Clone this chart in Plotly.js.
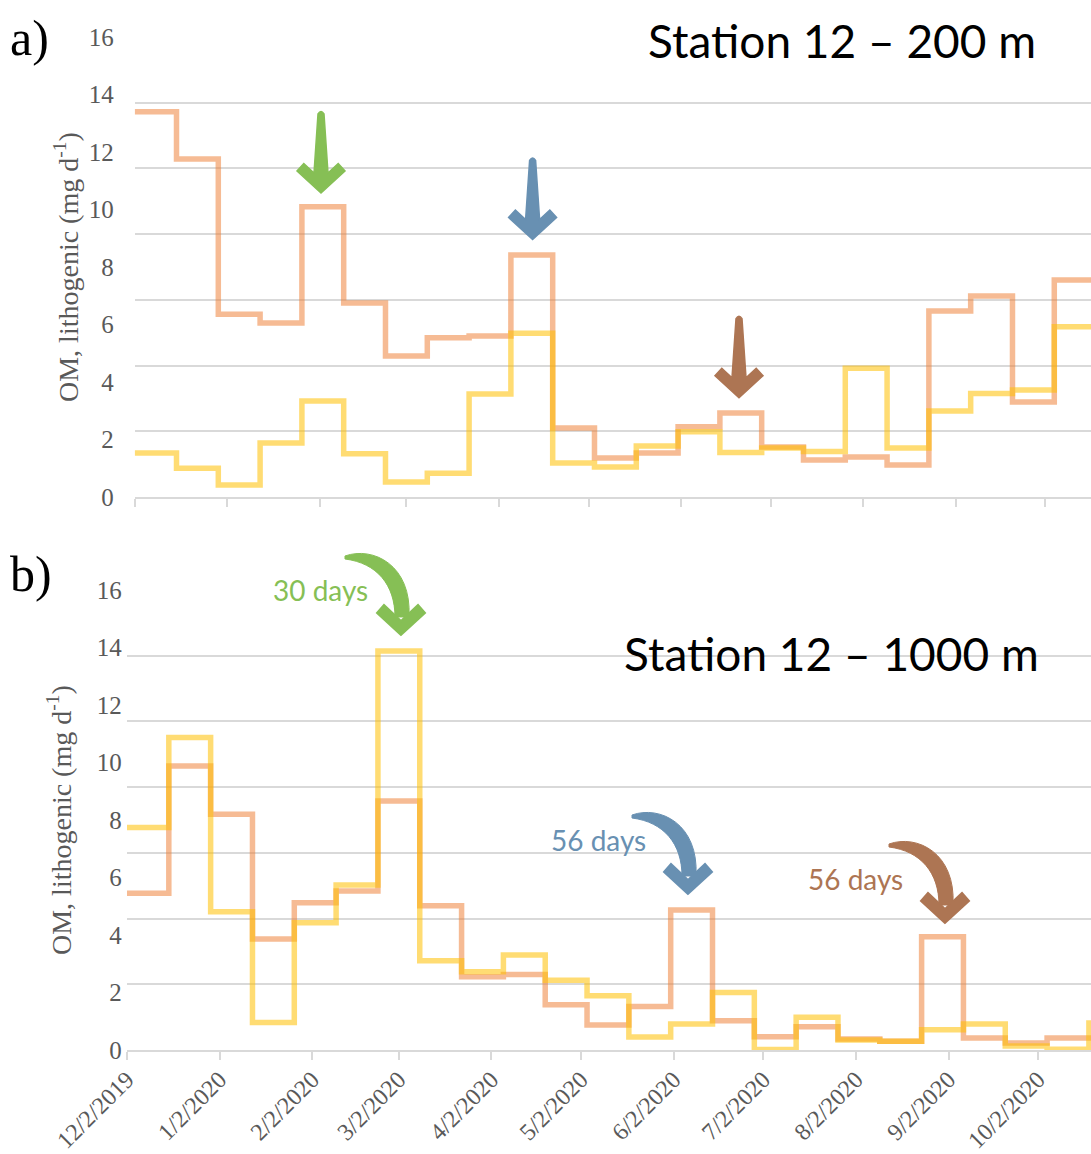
<!DOCTYPE html>
<html>
<head>
<meta charset="utf-8">
<script src="https://cdn.plot.ly/plotly-3.0.1.min.js"></script>
<style>html,body{margin:0;padding:0;background:#fff;}#chart{width:1091px;height:1154px;}</style>
</head>
<body>
<div id="chart"></div>
<script>
// ---------- DATA ----------
const periodStarts = ["2019-12-02","2019-12-16","2019-12-30","2020-01-13","2020-01-27","2020-02-10","2020-02-24",
  "2020-03-09","2020-03-23","2020-04-06","2020-04-20","2020-05-04","2020-05-18","2020-06-01","2020-06-15",
  "2020-06-29","2020-07-13","2020-07-27","2020-08-10","2020-08-24","2020-09-07","2020-09-21","2020-10-05",
  "2020-10-19","2020-11-02"];
const orange200 = [13.4,11.76,6.36,6.05,10.1,6.75,4.9,5.54,5.6,8.42,2.4,1.36,1.53,2.44,2.92,1.74,1.29,1.39,1.11,6.47,6.99,3.3,7.55];
const yellow200 = [1.53,1.0,0.42,1.88,3.34,1.5,0.52,0.83,3.58,5.7,1.18,1.04,1.77,2.27,1.55,1.7,1.58,4.48,1.7,2.99,3.6,3.72,5.92];
const orange1000 = [5.45,9.88,8.2,3.86,5.12,5.53,8.66,5.02,2.55,2.63,1.57,0.87,1.51,4.87,1.02,0.46,0.81,0.38,0.3,3.94,0.42,0.24,0.42,0.42];
const yellow1000 = [7.74,10.87,4.81,0.96,4.43,5.74,13.88,3.1,2.72,3.3,2.43,1.89,0.45,0.9,2.0,0.02,1.14,0.35,0.3,0.7,0.9,0.14,0.03,0.94];
const xTickVals = ["2019-12-02","2020-01-02","2020-02-02","2020-03-02","2020-04-02","2020-05-02","2020-06-02",
  "2020-07-02","2020-08-02","2020-09-02","2020-10-02"];
const xTickText = ["12/2/2019","1/2/2020","2/2/2020","3/2/2020","4/2/2020","5/2/2020","6/2/2020",
  "7/2/2020","8/2/2020","9/2/2020","10/2/2020"];
const yTickVals = [0,2,4,6,8,10,12,14,16];
const yTickText = ["0","2","4","6","8","10","12","14","16"];
const yTitle = "OM, lithogenic (mg d<sup>-1</sup>)";
const title200 = "Station 12 – 200 m";
const title1000 = "Station 12 – 1000 m";
const lagLabels = ["30 days","56 days","56 days"];

// ---------- HELPERS ----------
const W = 1091, H = 1154;
const ORANGE = "rgba(237,125,49,0.52)";
const YELLOW = "rgba(255,192,0,0.55)";
const GREEN = "#86BF55", BLUE = "#6890B2", BROWN = "#AD7553";
const GRID = "#D9D9D9", TXT = "#595959";
const SERIF = "Liberation Serif, Times New Roman, serif";
function px(x){return x/W;}
function py(y){return 1 - y/H;}
function dateShift(d, days){
  const ms = Date.parse(d + "T00:00:00Z") + days*86400000;
  return new Date(ms).toISOString().slice(0,19).replace("T"," ");
}
function stepTrace(vals, color, xa, ya){
  const n = vals.length;
  return {
    type:"scatter", mode:"lines", xaxis:xa, yaxis:ya,
    x: periodStarts.slice(0, n + 1),
    y: vals.concat([vals[n-1]]),
    line:{shape:"hv", color:color, width:5.5},
    hoverinfo:"skip"
  };
}
// gridlines as drawn in the figure (7 equal bands over the 0-16 label scale)
const gridVals = [];
for (let k = 0; k <= 7; k++) gridVals.push(16*k/7);

function P(x,y){return px(x).toFixed(5)+","+py(y).toFixed(5);}
function straightArrow(tx, ty, color){
  const pts = [[-3,-79],[3,-79],[7,-20],[17.2,-29.4],[24,-22],[0,0],[-24,-22],[-17.2,-29.4],[-7,-20]];
  let d = "M" + P(tx+pts[0][0], ty+pts[0][1]) + " Q" + P(tx, ty-84) + " " + P(tx+pts[1][0], ty+pts[1][1]);
  for (let i = 2; i < pts.length; i++) d += " L" + P(tx+pts[i][0], ty+pts[i][1]);
  d += " Z";
  return {type:"path", xref:"paper", yref:"paper", path:d, fillcolor:color, line:{color:color, width:1.5}, layer:"above"};
}
function curvedArrow(tx, ty, color){
  const body = "M" + P(tx-56,ty-79) + " C" + P(tx-28,ty-89) + " " + P(tx+11,ty-70) + " " + P(tx+8,ty-18) +
    " L" + P(tx-6,ty-18) + " C" + P(tx-6,ty-50) + " " + P(tx-24,ty-72) + " " + P(tx-56,ty-76) + " Z";
  const headPts = [[0,0],[-24,-22],[-17,-30],[0,-14],[17,-30],[24,-22]];
  let head = "M" + P(tx+headPts[0][0], ty+headPts[0][1]);
  for (let i = 1; i < headPts.length; i++) head += " L" + P(tx+headPts[i][0], ty+headPts[i][1]);
  head += " Z";
  return [
    {type:"path", xref:"paper", yref:"paper", path:body, fillcolor:color, line:{color:color, width:1}, layer:"above"},
    {type:"path", xref:"paper", yref:"paper", path:head, fillcolor:color, line:{color:color, width:2}, layer:"above"}
  ];
}

// ---------- TRACES ----------
const data = [
  stepTrace(orange200, ORANGE, "x", "y"),
  stepTrace(yellow200, YELLOW, "x", "y"),
  stepTrace(orange1000, ORANGE, "x2", "y2"),
  stepTrace(yellow1000, YELLOW, "x2", "y2")
];

const tickFont = {family:SERIF, size:25, color:TXT};
function yAxis(domain, standoff){
  return {
    domain: domain, range:[0,16], tickmode:"array", tickvals:yTickVals, ticktext:yTickText,
    showgrid:false, zeroline:false, showline:false, ticks:"", tickfont:tickFont,
    ticklabelstandoff: standoff, fixedrange:true,
    minor:{tickmode:"array", tickvals:gridVals, showgrid:true, gridcolor:GRID, gridwidth:2, ticks:""}
  };
}
function xAxis(domain, days, anchor, labels){
  return {
    domain: domain, anchor: anchor, type:"date",
    range:[dateShift(periodStarts[0],0), dateShift(periodStarts[0],days)],
    tickmode:"array", tickvals:xTickVals, ticktext:xTickText, showticklabels:labels,
    tickangle:-45, tickfont:{family:SERIF, size:24, color:TXT}, ticklabelstandoff:-4,
    showgrid:false, zeroline:false, showline:true, linecolor:GRID, linewidth:2,
    ticks:"outside", ticklen:8, tickwidth:2, tickcolor:GRID, fixedrange:true
  };
}

const layout = {
  width:W, height:H, margin:{l:0,r:0,t:0,b:0}, paper_bgcolor:"#fff", plot_bgcolor:"rgba(0,0,0,0)",
  showlegend:false,
  xaxis: xAxis([px(134.7),1], 320.3, "y", false),
  yaxis: yAxis([py(497), py(37)], 20),
  xaxis2: xAxis([px(127),1], 322.7, "y2", true),
  yaxis2: yAxis([py(1050), py(590)], 12),
  annotations:[
    {xref:"paper", yref:"paper", x:px(8), y:py(38), xanchor:"left", yanchor:"middle", showarrow:false,
     text:"a)", font:{family:SERIF, size:50, color:"#000"}},
    {xref:"paper", yref:"paper", x:px(8), y:py(574), xanchor:"left", yanchor:"middle", showarrow:false,
     text:"b)", font:{family:SERIF, size:50, color:"#000"}},
    {xref:"paper", yref:"paper", x:px(1038), y:py(40), xanchor:"right", yanchor:"middle", showarrow:false,
     text:title200, font:{family:"Lato, sans-serif", size:46, color:"#000"}},
    {xref:"paper", yref:"paper", x:px(1041), y:py(653), xanchor:"right", yanchor:"middle", showarrow:false,
     text:title1000, font:{family:"Lato, sans-serif", size:46, color:"#000"}},
    {xref:"paper", yref:"paper", x:px(66), y:py(267), xanchor:"center", yanchor:"middle", showarrow:false,
     textangle:-90, text:yTitle, font:{family:SERIF, size:28, color:TXT}},
    {xref:"paper", yref:"paper", x:px(59), y:py(820), xanchor:"center", yanchor:"middle", showarrow:false,
     textangle:-90, text:yTitle, font:{family:SERIF, size:28, color:TXT}},
    {xref:"paper", yref:"paper", x:px(320), y:py(590), xanchor:"center", yanchor:"middle", showarrow:false,
     text:lagLabels[0], font:{family:"Lato, sans-serif", size:28, color:GREEN}},
    {xref:"paper", yref:"paper", x:px(598), y:py(840), xanchor:"center", yanchor:"middle", showarrow:false,
     text:lagLabels[1], font:{family:"Lato, sans-serif", size:28, color:BLUE}},
    {xref:"paper", yref:"paper", x:px(855), y:py(879), xanchor:"center", yanchor:"middle", showarrow:false,
     text:lagLabels[2], font:{family:"Lato, sans-serif", size:28, color:BROWN}}
  ],
  shapes: [].concat(
    [straightArrow(321,193,GREEN), straightArrow(532.6,239.5,BLUE), straightArrow(739,397.7,BROWN)],
    curvedArrow(401,635,GREEN), curvedArrow(688,894,BLUE), curvedArrow(945,923,BROWN)
  )
};

Plotly.newPlot("chart", data, layout, {displayModeBar:false, staticPlot:true});
</script>
</body>
</html>
